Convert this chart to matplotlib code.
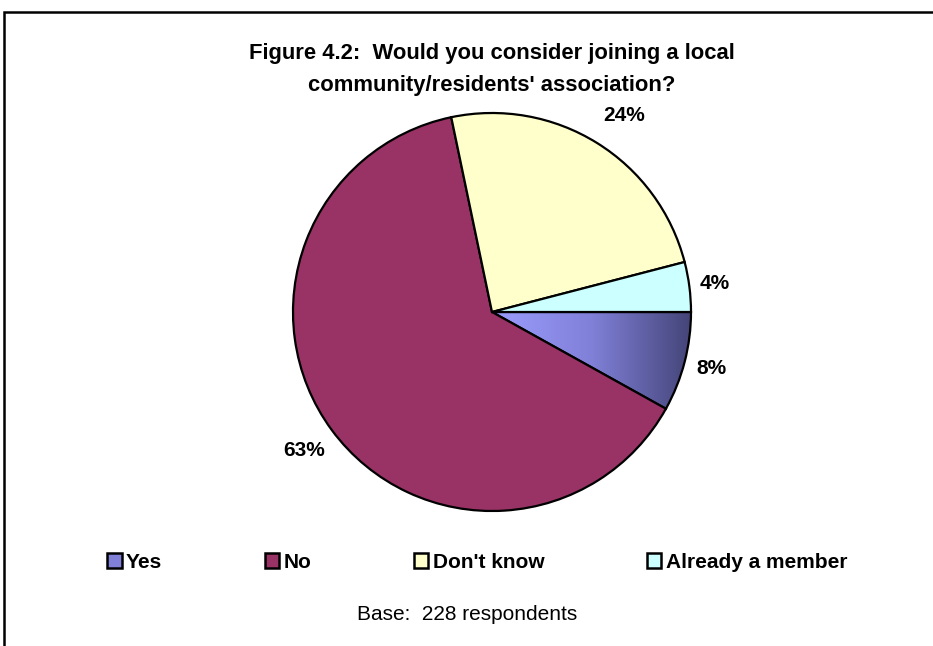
import numpy as np
import matplotlib
matplotlib.use("Agg")
import matplotlib.pyplot as plt
from matplotlib.patches import Patch, Rectangle
from matplotlib.colors import LinearSegmentedColormap

plt.rcParams["font.family"] = ["Liberation Sans", "DejaVu Sans"]

# data
labels = ["Yes", "No", "Don't know", "Already a member"]
values = [8, 63, 24, 4]
colors = ["#8080D8", "#993366", "#FFFFCC", "#CCFFFF"]
label_dist = [1.14, 1.17, 1.19, 1.13]
label_shift = [0, 0, -2, 0]   # degrees, nudges Excel-style label placement

W, H = 933, 646
fig = plt.figure(figsize=(W / 100, H / 100), dpi=100)

# pie: centre (492, 312) px, radius 199 px
R = 199
ax = fig.add_axes([(492 - 1.5 * R) / W, (H - 312 - 1.5 * R) / H, 3 * R / W, 3 * R / H])
wedges, _ = ax.pie(values, colors=colors, startangle=0, counterclock=False,
                   wedgeprops=dict(edgecolor="black", linewidth=1.6))
ax.set_aspect("equal")
ax.axis("off")

# horizontal gradient on the "Yes" slice
grad = LinearSegmentedColormap.from_list("yes", ["#9C9CFF", "#8080D8", "#444478"])
g = np.linspace(0, 1, 256).reshape(1, -1)
im = ax.imshow(g, cmap=grad, extent=[0, 1, -0.5, 0.01], aspect="auto",
               zorder=wedges[0].get_zorder() - 0.5)
wedges[0].set_facecolor("none")
im.set_clip_path(wedges[0])
ax.set_xlim(-1.5, 1.5)
ax.set_ylim(-1.5, 1.5)

# percentage labels
for w, v, d, s in zip(wedges, values, label_dist, label_shift):
    mid = np.deg2rad((w.theta1 + w.theta2) / 2 + s)
    ax.text(d * np.cos(mid), d * np.sin(mid), f"{v}%", ha="center", va="center",
            fontsize=15, fontweight="bold")

fig.text(492 / W, 1 - 53 / H, "Figure 4.2:  Would you consider joining a local",
         ha="center", va="center", fontsize=15.8, fontweight="bold")
fig.text(492 / W, 1 - 85 / H, "community/residents' association?",
         ha="center", va="center", fontsize=15.8, fontweight="bold")

handles = [Patch(facecolor=c, edgecolor="black", linewidth=1.8) for c in colors]
fig.legend(handles, labels, loc="center", mode="expand",
           bbox_to_anchor=(107 / W, 1 - 577 / H, 740 / W, 30 / H),
           ncol=4, frameon=False, prop=dict(size=15, weight="bold"),
           handlelength=0.7, handleheight=0.7, handletextpad=0.2,
           borderaxespad=0, borderpad=0)

fig.text(467 / W, 1 - 614 / H, "Base:  228 respondents", ha="center", va="center", fontsize=15)

# chart border (runs off the right and bottom edges)
fig.add_artist(Rectangle((4 / W, -0.05), 1.1, 1 - 12 / H + 0.05, transform=fig.transFigure,
                         fill=False, edgecolor="black", linewidth=1.8))

fig.savefig("out.png", dpi=100)
